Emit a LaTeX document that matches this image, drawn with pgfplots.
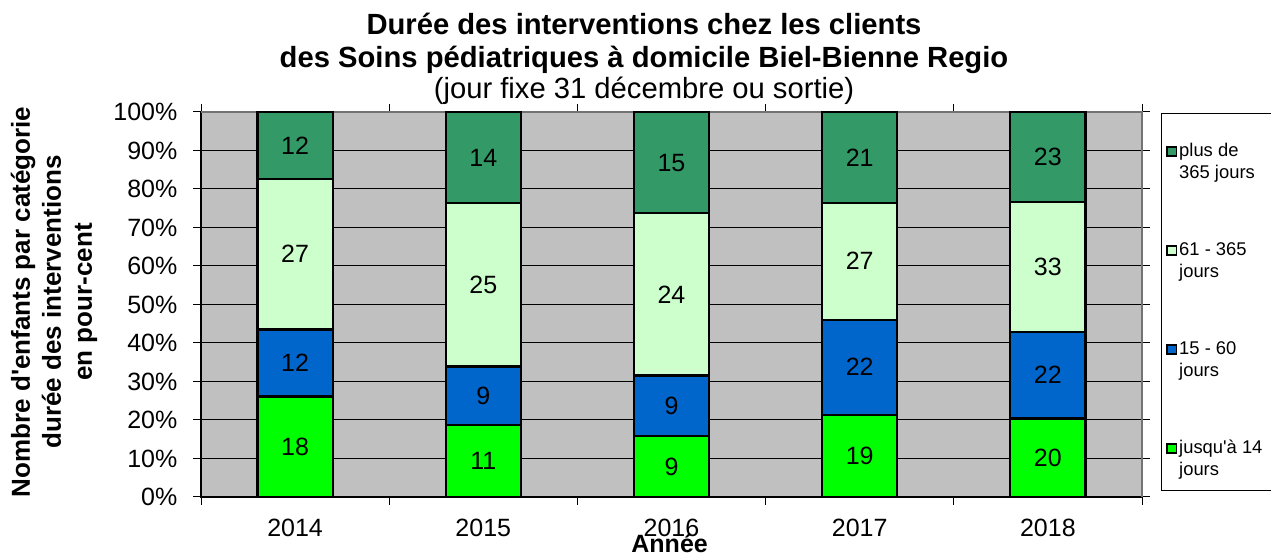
\documentclass[border=0pt]{standalone}
\usepackage{fontspec}
\setmainfont{Liberation Sans}[Ligatures=TeXOff]
\usepackage{pgfplots}
\usepackage{pgfplotstable}
\pgfplotsset{compat=1.18}

\definecolor{seagr}{HTML}{339966}
\definecolor{ltgr}{HTML}{CCFFCC}
\definecolor{blu}{HTML}{0066CC}
\definecolor{brgr}{HTML}{00FF00}
\definecolor{bggray}{HTML}{C0C0C0}

% percentages per year (p) and counts shown on the bars (c)
\pgfplotstableread{
x  p1    c1 p2    c2 p3    c3 p4    c4
0  26.09 18 17.39 12 39.13 27 17.39 12
1  18.64 11 15.25 9  42.37 25 23.74 14
2  15.79 9  15.79 9  42.11 24 26.31 15
3  21.35 19 24.72 22 30.34 27 23.59 21
4  20.41 20 22.45 22 33.67 33 23.47 23
}\data

\pgfplotsset{
  seg/.style={fill=#1, draw=black, line width=1.1pt,
    legend image code/.code={\draw[fill=#1, draw=black, line width=0.8pt] (0pt,-2.3pt) rectangle (4.6pt,2.3pt);}},
}

\begin{document}
\begin{tikzpicture}
\useasboundingbox (0,0) rectangle (635.5pt,278pt);
\begin{axis}[
    at={(100.5pt,29.5pt)}, anchor=south west,
    scale only axis,
    width=470.5pt, height=192.5pt,
    ybar stacked, bar width=0.4,
    xmin=-0.5, xmax=4.5, ymin=0, ymax=100,
    clip=false,
    axis background/.style={fill=bggray},
    axis line style={draw=none},
    point meta=explicit,
    nodes near coords={\pgfmathprintnumber[assume math mode=true]{\pgfplotspointmeta}},
    every node near coord/.append style={anchor=center,
      font=\fontsize{12.5}{14}\selectfont, text=black},
    ytick={0,10,...,100},
    yticklabels={0\%,10\%,20\%,30\%,40\%,50\%,60\%,70\%,80\%,90\%,100\%},
    yticklabel style={xshift=-4.3pt},
    xtick={-0.5,0.5,...,4.5},
    xticklabels={},
    extra x ticks={0,1,2,3,4},
    extra x tick labels={2014,2015,2016,2017,2018},
    extra x tick style={major tick length=0pt, grid=none,
      xticklabel style={yshift=-7.5pt}},
    tick align=outside, major tick length=4pt,
    tick style={black, line width=0.5pt},
    tick label style={font=\fontsize{12.5}{14}\selectfont},
    ymajorgrids, xmajorgrids=false,
    grid style={black, line width=0.5pt},
    xlabel={Année},
    xlabel style={at={(axis description cs:0.498,0)}, anchor=north, yshift=-15pt,
      font=\bfseries\fontsize{12.5}{14}\selectfont},
    reverse legend,
    legend style={at={(rel axis cs:1.0255,0.925)}, anchor=north west, draw=none, fill=none,
      inner sep=0pt, row sep=39.5pt, font=\fontsize{9.2}{11}\selectfont,
      nodes={inner sep=1pt}},
    legend cell align=left,
]
\addplot[seg=brgr] table[x=x, y=p1, meta=c1] {\data};
\addlegendentry{\parbox[t]{50pt}{jusqu'à 14\\jours}}
\addplot[seg=blu] table[x=x, y=p2, meta=c2] {\data};
\addlegendentry{\parbox[t]{50pt}{15 - 60\\jours}}
\addplot[seg=ltgr] table[x=x, y=p3, meta=c3] {\data};
\addlegendentry{\parbox[t]{50pt}{61 - 365\\jours}}
\addplot[seg=seagr] table[x=x, y=p4, meta=c4] {\data};
\addlegendentry{\parbox[t]{50pt}{plus de\\365 jours}}
% frame: black left/bottom, gray top/right
\draw[gray!90!black, line width=1pt] (rel axis cs:0,1) -- (rel axis cs:1,1) -- (rel axis cs:1,0);
\draw[black, line width=0.6pt] (rel axis cs:0,1) -- (rel axis cs:0,0) -- (rel axis cs:1,0);
% legend frame
\draw[black, line width=0.5pt] (rel axis cs:1.2,0.0156) -- (rel axis cs:1.0202,0.0156)
  -- (rel axis cs:1.0202,0.997) -- (rel axis cs:1.2,0.997);
\end{axis}
\node[anchor=base, font=\bfseries\fontsize{14.6}{17}\selectfont] at (322pt,260.5pt)
  {Durée des interventions chez les clients};
\node[anchor=base, font=\bfseries\fontsize{14.6}{17}\selectfont] at (322pt,244pt)
  {des Soins pédiatriques à domicile Biel-Bienne Regio};
\node[anchor=base, font=\fontsize{14.6}{17}\selectfont] at (322pt,228.5pt)
  {(jour fixe 31 décembre ou sortie)};
\node[rotate=90, align=center, font=\bfseries\fontsize{13}{15.5}\selectfont] at (27pt,127pt)
  {Nombre d'enfants par catégorie\\durée des interventions\\en pour-cent};
\end{tikzpicture}
\end{document}
